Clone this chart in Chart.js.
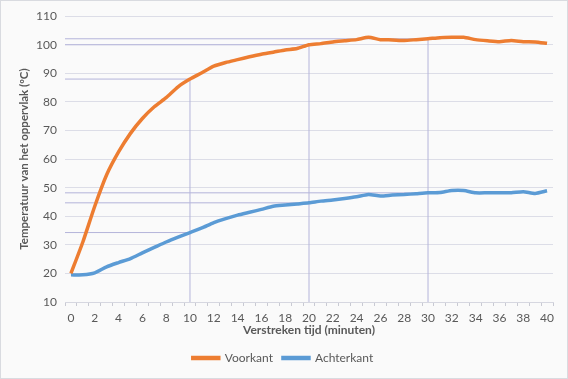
<!DOCTYPE html>
<html>
<head>
<meta charset="utf-8">
<script src="https://cdn.jsdelivr.net/npm/chart.js@4"></script>
<style>
  body { margin: 0; background: #fff; }
  #wrap { width: 568px; height: 379px; box-sizing: border-box; border: 1px solid #d9dbe0; background: #fafafa; }
</style>
</head>
<body>
<div id="wrap"><canvas id="chart" width="566" height="377"></canvas></div>
<script>
const minutes = [0, 1, 2, 3, 4, 5, 6, 7, 8, 9, 10, 11, 12, 13, 14, 15, 16, 17, 18, 19, 20,
  21, 22, 23, 24, 25, 26, 27, 28, 29, 30, 31, 32, 33, 34, 35, 36, 37, 38, 39, 40];
const voorkant = [20, 31, 43.5, 54.5, 62.5, 69, 74.2, 78.3, 81.5, 85.3, 88, 90.2, 92.5, 93.8, 94.8, 95.8, 96.7, 97.4, 98.2, 98.7, 100,
  100.4, 101, 101.4, 101.8, 102.6, 101.8, 101.7, 101.5, 101.8, 102.1, 102.5, 102.6, 102.6, 101.8, 101.4, 101.1, 101.5, 101.1, 101.0, 100.5];
const achterkant = [19.5, 19.5, 20.2, 22.3, 23.8, 25.2, 27.2, 29.1, 31, 32.7, 34.3, 35.9, 37.8, 39.2, 40.4, 41.4, 42.4, 43.5, 43.9, 44.3, 44.7,
  45.3, 45.7, 46.2, 46.8, 47.6, 47.1, 47.4, 47.6, 47.9, 48.2, 48.3, 49.0, 49.0, 48.2, 48.2, 48.2, 48.2, 48.6, 48.0, 48.9];
const markers = [10, 20, 30];

const orange = "#ed7d31";
const blue = "#5b9bd5";
const dropColor = "#b4b4da";
const textColor = "#595959";
const font = "Lato";

function series(values) {
  return minutes.map((m, i) => ({ x: m, y: values[i] }));
}

// drop lines from the curves to both axes
const dropSets = [];
markers.forEach(m => {
  const i = minutes.indexOf(m);
  dropSets.push({ data: [{ x: m, y: 10 }, { x: m, y: voorkant[i] }] });
  dropSets.push({ data: [{ x: -0.5, y: voorkant[i] }, { x: m, y: voorkant[i] }] });
  dropSets.push({ data: [{ x: -0.5, y: achterkant[i] }, { x: m, y: achterkant[i] }] });
});
dropSets.forEach(d => {
  d.label = "drop";
  d.borderColor = dropColor;
  d.borderWidth = 1;
  d.pointRadius = 0;
  d.tension = 0;
  d.order = 5;
});

const ctx = document.getElementById("chart").getContext("2d");
new Chart(ctx, {
  type: "line",
  data: {
    datasets: [
      { label: "Voorkant", data: series(voorkant), borderColor: orange, backgroundColor: orange,
        borderWidth: 3.5, pointRadius: 0, tension: 0.2, order: 0 },
      { label: "Achterkant", data: series(achterkant), borderColor: blue, backgroundColor: blue,
        borderWidth: 3.5, pointRadius: 0, tension: 0.2, order: 0 },
      ...dropSets
    ]
  },
  options: {
    responsive: false,
    animation: false,
    layout: { padding: { top: 14, right: 14, left: 12, bottom: 4 } },
    plugins: {
      tooltip: { enabled: false },
      legend: {
        position: "bottom",
        labels: {
          filter: item => item.text !== "drop",
          boxWidth: 26,
          boxHeight: 1,
          padding: 10,
          color: textColor,
          font: { family: font, size: 12 }
        }
      }
    },
    scales: {
      x: {
        type: "linear",
        min: -0.5,
        max: 40.5,
        afterBuildTicks: scale => { scale.ticks = minutes.map(v => ({ value: v })); },
        afterFit: scale => { scale.height = 40; },
        ticks: {
          autoSkip: false,
          maxRotation: 0,
          padding: 5,
          color: textColor,
          font: { family: font, size: 12 },
          callback: v => (v % 2 === 0 ? v : "")
        },
        grid: { offset: true, drawOnChartArea: false, tickLength: 4, color: "#c9cad3" },
        border: { display: true, color: "#d6d7e0" },
        title: {
          display: true,
          text: "Verstreken tijd (minuten)",
          color: textColor,
          font: { family: font, size: 12, weight: "bold" },
          padding: { top: 0, bottom: 5 }
        }
      },
      y: {
        min: 10,
        max: 110,
        afterFit: scale => { scale.width = 52; },
        ticks: { stepSize: 10, padding: 8, color: textColor, font: { family: font, size: 12 } },
        grid: { drawTicks: false, color: "#dcdde7" },
        border: { display: false },
        title: {
          display: true,
          text: "Temperatuur van het oppervlak (ºC)",
          color: textColor,
          font: { family: font, size: 11.5, weight: "bold" },
          padding: { top: 4, bottom: 4 }
        }
      }
    }
  }
});
</script>
</body>
</html>
